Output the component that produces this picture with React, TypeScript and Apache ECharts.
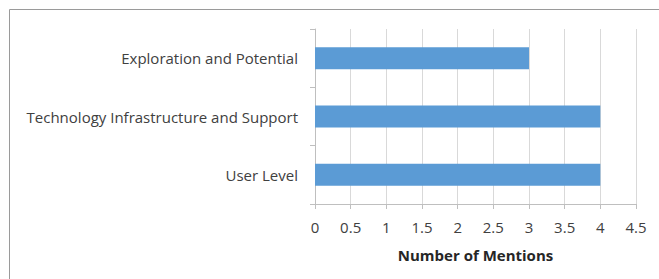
import React, { useEffect, useRef } from "react";
import * as echarts from "echarts";

const categories = ["User Level", "Technology Infrastructure and Support", "Exploration and Potential"];
const mentions = [4, 4, 3];
const xAxisTitle = "Number of Mentions";

export default function App() {
  const ref = useRef<HTMLDivElement>(null);
  useEffect(() => {
    if (!ref.current) return;
    const chart = echarts.init(ref.current, undefined, { renderer: "svg" });
    const font = "Open Sans";
    chart.setOption({
      animation: false,
      backgroundColor: "#ffffff",
      graphic: [
        {
          type: "rect",
          shape: { x: 9.5, y: 9.5, width: 700, height: 300 },
          style: { fill: "none", stroke: "#9a9a9a", lineWidth: 1 },
          silent: true,
        },
      ],
      grid: { left: 315, right: 23, top: 29, bottom: 75, containLabel: false },
      xAxis: {
        type: "value",
        min: 0,
        max: 4.5,
        interval: 0.5,
        name: xAxisTitle,
        nameLocation: "middle",
        nameGap: 43,
        nameTextStyle: { fontFamily: font, fontSize: 15, fontWeight: "bold", color: "#262626" },
        axisLine: { show: true, lineStyle: { color: "#bfbfbf", width: 1 } },
        axisTick: { show: true, length: 5, lineStyle: { color: "#bfbfbf" } },
        axisLabel: { fontFamily: font, fontSize: 15, color: "#404040", margin: 15 },
        splitLine: { show: true, lineStyle: { color: "#d9d9d9", width: 1 } },
      },
      yAxis: {
        type: "category",
        data: categories,
        axisLine: { show: true, lineStyle: { color: "#bfbfbf", width: 1 } },
        axisTick: { show: true, length: 5, lineStyle: { color: "#bfbfbf" } },
        axisLabel: { fontFamily: font, fontSize: 15, color: "#404040", margin: 17 },
        splitLine: { show: false },
      },
      series: [
        {
          type: "bar",
          data: mentions,
          barWidth: 22,
          itemStyle: { color: "#5b9bd5" },
        },
      ],
    });
    return () => chart.dispose();
  }, []);
  return <div ref={ref} style={{ position: "fixed", left: 0, top: 0, width: 659, height: 279 }} />;
}
